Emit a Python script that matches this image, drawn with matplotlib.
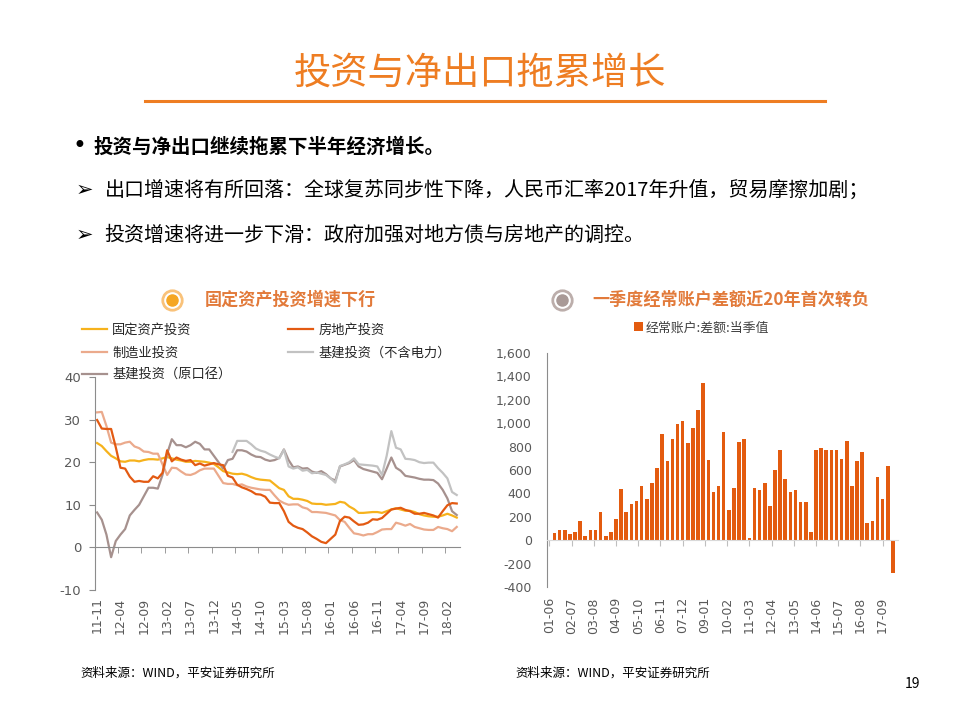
import numpy as np
import pandas as pd
import matplotlib
matplotlib.use('Agg')
import matplotlib.pyplot as plt
from matplotlib.lines import Line2D
from matplotlib.ticker import FuncFormatter, FixedLocator

plt.rcParams['font.family'] = ['Noto Sans CJK SC', 'DejaVu Sans']
plt.rcParams['axes.unicode_minus'] = False

# ---- left chart: monthly cumulative YoY (%), 2011-11 .. 2018-04
months = pd.date_range('2011-11-01', periods=78, freq='MS').strftime('%y-%m').tolist()

fai = [24.5, 23.8, 22.6, 21.5, 20.9, 20.2, 20.1, 20.4, 20.4, 20.2, 20.5, 20.7, 20.7, 20.6,
       20.9, 21.2, 20.9, 20.6, 20.4, 20.1, 20.1, 20.3, 20.2, 20.1, 19.9, 19.6, 18.8, 17.9,
       17.6, 17.3, 17.2, 17.3, 17.0, 16.5, 16.1, 15.9, 15.8, 15.7, 14.8, 13.9, 13.5, 12.0,
       11.4, 11.4, 11.2, 10.9, 10.3, 10.2, 10.2, 10.0, 10.1, 10.2, 10.7, 10.5, 9.6, 9.0,
       8.1, 8.1, 8.2, 8.3, 8.3, 8.1, 8.5, 8.9, 9.2, 8.9, 8.6, 8.6, 8.3, 7.8, 7.5, 7.3,
       7.2, 7.2, 7.5, 7.9, 7.5, 7.0]

realestate = [29.9, 27.9, 27.8, 27.8, 23.5, 18.7, 18.5, 16.6, 15.4, 15.6, 15.4, 15.4, 16.7, 16.2,
              17.5, 22.8, 20.2, 21.1, 20.6, 20.3, 20.5, 19.3, 19.7, 19.2, 19.5, 19.8, 19.5, 19.3,
              16.8, 16.4, 14.7, 14.1, 13.7, 13.2, 12.5, 12.4, 11.9, 10.5, 10.4, 10.4, 8.5, 6.0,
              5.1, 4.6, 4.3, 3.5, 2.6, 2.0, 1.3, 1.0, 2.0, 3.0, 6.2, 7.2, 7.0, 6.1,
              5.3, 5.4, 5.8, 6.6, 6.5, 6.9, 7.9, 8.9, 9.1, 9.3, 8.8, 8.5, 7.9, 7.9, 8.1, 7.8,
              7.5, 7.0, 8.5, 9.9, 10.4, 10.3]

manufacturing = [31.7, 31.8, 28.5, 24.6, 24.2, 24.2, 24.6, 24.8, 23.7, 23.3, 22.5, 22.4, 22.0, 22.0,
                 19.5, 17.0, 18.7, 18.6, 17.8, 17.1, 17.0, 17.4, 18.1, 18.5, 18.5, 18.5, 16.8, 15.1,
                 14.9, 14.9, 14.6, 14.8, 14.3, 14.0, 13.8, 13.6, 13.5, 13.5, 12.2, 11.0, 10.4, 10.0,
                 10.1, 10.1, 9.4, 9.1, 8.3, 8.3, 8.2, 8.1, 7.8, 7.5, 6.4, 6.0, 4.6, 3.3,
                 3.1, 2.8, 3.1, 3.1, 3.6, 4.2, 4.3, 4.3, 5.8, 5.5, 5.1, 5.5, 4.8, 4.5, 4.2, 4.1,
                 4.1, 4.8, 4.5, 4.3, 3.8, 4.8]

infra_ex_power = [np.nan] * 29 + [
    22.4, 25.0, 25.0, 25.0, 24.2, 23.2, 22.7, 22.4, 21.8, 21.3, 20.9, 22.9, 19.0,
    18.5, 18.8, 18.0, 18.2, 17.4, 17.6, 17.3, 17.0, 16.2, 15.2, 19.1, 19.5, 20.0, 20.9,
    19.5, 19.4, 19.3, 19.2, 19.0, 17.0, 21.5, 27.3, 23.4, 23.0, 20.8, 20.7, 20.5, 20.0, 19.8,
    19.9, 19.9, 18.6, 17.5, 16.2, 13.0, 12.3]

infra_old = [8.2, 6.5, 3.0, -2.3, 1.5, 3.0, 4.3, 7.5, 8.8, 10.0, 12.0, 14.0, 14.0, 13.8,
             17.0, 22.0, 25.4, 24.0, 24.0, 23.5, 24.0, 24.8, 24.3, 23.0, 23.0, 21.5, 20.0, 18.5,
             20.5, 20.8, 22.8, 22.8, 22.5, 21.8, 21.3, 21.2, 20.6, 20.3, 20.5, 21.0, 23.0, 20.5,
             18.8, 19.0, 18.5, 18.6, 17.8, 17.5, 17.9, 17.2, 16.2, 15.7, 19.0, 19.4, 19.8, 20.5,
             19.0, 18.4, 18.1, 17.8, 17.5, 16.0, 18.5, 21.1, 18.7, 18.0, 16.8, 16.6, 16.4, 16.1,
             15.9, 15.9, 15.8, 15.0, 13.5, 11.5, 8.5, 7.6]

# ---- right chart: current account balance per quarter (100m USD), 2001Q2 .. 2018Q1
quarters = pd.date_range('2001-06-30', periods=68, freq='QE')
current_account = [-10, 60, 83, 91, 57, 74, 162, 34, 91, 91, 245, 40, 66, 177, 436, 245,
                   308, 339, 467, 350, 485, 613, 906, 678, 869, 992, 1023, 829, 963, 1109,
                   1340, 684, 408, 459, 923, 254, 442, 838, 869, 23, 442, 433, 493, 296,
                   599, 767, 527, 416, 433, 328, 328, 66, 767, 792, 775, 767, 775, 690,
                   846, 467, 675, 758, 151, 168, 536, 350, 630, -282]
ca_ticklabels = ['01-06', '02-07', '03-08', '04-09', '05-10', '06-11', '07-12', '09-01',
                 '10-02', '11-03', '12-04', '13-05', '14-06', '15-07', '16-08', '17-09']

ORANGE = '#EE7D22'
TICK_C = '#595959'
SPINE_C = '#8C8C8C'

fig = plt.figure(figsize=(9.6, 7.2), dpi=100)

# ---- page header
fig.text(0.5, 0.899, '投资与净出口拖累增长', ha='center', va='center',
         fontsize=26.8, color=ORANGE, fontweight='medium')
fig.add_artist(Line2D([145 / 960, 825 / 960], [0.8597, 0.8597], color=ORANGE, lw=2.2,
                      transform=fig.transFigure))
fig.text(0.075, 0.797, '•', ha='left', va='center', fontsize=17, color='black',
         family=['DejaVu Sans'])
fig.text(0.097, 0.796, '投资与净出口继续拖累下半年经济增长。', ha='left', va='center',
         fontsize=14, fontweight='bold', color='black')
fig.text(0.079, 0.736, '➢', ha='left', va='center', fontsize=15, color='black',
         family=['DejaVu Sans'])
fig.text(0.109, 0.736, '出口增速将有所回落：全球复苏同步性下降，人民币汇率2017年升值，贸易摩擦加剧；',
         ha='left', va='center', fontsize=14.4, color='black')
fig.text(0.079, 0.673, '➢', ha='left', va='center', fontsize=15, color='black',
         family=['DejaVu Sans'])
fig.text(0.109, 0.673, '投资增速将进一步下滑：政府加强对地方债与房地产的调控。',
         ha='left', va='center', fontsize=14.4, color='black')

# ---- panel headers with round icons
def icon(x, y, ring, dot):
    fig.add_artist(Line2D([x], [y], marker='o', markersize=14, markerfacecolor='white',
                          markeredgecolor=ring, markeredgewidth=2, transform=fig.transFigure))
    fig.add_artist(Line2D([x], [y], marker='o', markersize=8, markerfacecolor=dot,
                          markeredgecolor=dot, transform=fig.transFigure))

icon(172 / 960, 1 - 300 / 720, '#F9C27A', '#F5A623')
icon(562 / 960, 1 - 300 / 720, '#BCAEAB', '#A99A97')
fig.text(205 / 960, 1 - 300 / 720, '固定资产投资增速下行', ha='left', va='center',
         fontsize=12.3, fontweight='bold', color='#E27A3A')
fig.text(592 / 960, 1 - 300 / 720, '一季度经常账户差额近20年首次转负', ha='left', va='center',
         fontsize=12.3, fontweight='bold', color='#E27A3A')

# ---- left chart
ax = fig.add_axes([95 / 960, 1 - 590 / 720, 365 / 960, 213 / 720])
x = np.arange(len(months))
ax.plot(x, fai, color='#F6B21C', lw=1.6, label='固定资产投资')
ax.plot(x, manufacturing, color='#EBAA8C', lw=1.6, label='制造业投资')
ax.plot(x, infra_old, color='#A6918E', lw=1.6, label='基建投资（原口径）')
ax.plot(x, infra_ex_power, color='#C2C2C2', lw=1.6, label='基建投资（不含电力）')
ax.plot(x, realestate, color='#E35A12', lw=1.6, label='房地产投资')
ax.set_xlim(-0.45, 77.7)
ax.set_ylim(-10, 40)
ax.set_yticks([-10, 0, 10, 20, 30, 40])
for s in ['top', 'right']:
    ax.spines[s].set_visible(False)
ax.spines['bottom'].set_position(('data', 0))
for s in ['left', 'bottom']:
    ax.spines[s].set_color(SPINE_C)
ax.set_xticks(x[::5])
ax.set_xticklabels(months[::5], rotation=90, fontsize=9, color=TICK_C, family='DejaVu Sans')
ax.xaxis.set_minor_locator(FixedLocator(x[::5] - 0.5))
ax.tick_params(axis='x', which='major', length=0, pad=36)
ax.tick_params(axis='x', which='minor', length=4, color=SPINE_C)
ax.tick_params(axis='y', length=4, color=SPINE_C, pad=6)
for t in ax.get_yticklabels():
    t.set_fontsize(9.5)
    t.set_color(TICK_C)
    t.set_family('DejaVu Sans')

handles, labels = ax.get_legend_handles_labels()
order = [0, 1, 2, 4, 3]
ax.legend([handles[i] for i in order], [labels[i] for i in order], ncol=2,
          loc='upper left', bbox_to_anchor=(82 / 960, 1 - 324 / 720),
          bbox_transform=fig.transFigure, frameon=False, fontsize=9.5,
          handlelength=1.9, handletextpad=0.4, columnspacing=4.3, labelspacing=0.72,
          borderpad=0, borderaxespad=0, labelcolor='#262626')

# ---- right chart
ax2 = fig.add_axes([547 / 960, 1 - 587 / 720, 351 / 960, 234 / 720])
qpos = [(d.year - 2001) * 12 + d.month - 6 for d in quarters]
ax2.bar(qpos, current_account, width=2.1, color='#E35B0F', label='经常账户:差额:当季值')
ax2.set_xlim(-1.4, 204)
ax2.set_ylim(-400, 1600)
ax2.set_yticks(np.arange(-400, 1601, 200))
ax2.yaxis.set_major_formatter(FuncFormatter(lambda v, p: f'{int(v):,}'))
for s in ['top', 'right']:
    ax2.spines[s].set_visible(False)
ax2.spines['bottom'].set_position(('data', 0))
ax2.spines['left'].set_color(SPINE_C)
ax2.spines['bottom'].set_color('#D9D9D9')
ax2.set_xticks(np.arange(len(ca_ticklabels)) * 13)
ax2.set_xticklabels(ca_ticklabels, rotation=90, fontsize=9, color=TICK_C, family='DejaVu Sans')
ax2.tick_params(axis='x', length=4, color='#BFBFBF', pad=37)
ax2.tick_params(axis='y', length=0, pad=11)
for t in ax2.get_yticklabels():
    t.set_fontsize(9)
    t.set_color(TICK_C)
    t.set_family('DejaVu Sans')
ax2.legend(loc='center', bbox_to_anchor=(701 / 960, 1 - 328 / 720),
           bbox_transform=fig.transFigure, frameon=False, fontsize=9.3,
           handlelength=0.7, handleheight=0.7, handletextpad=0.2,
           borderpad=0, labelcolor='#404040')

# ---- footers
fig.text(80 / 960, 1 - 673 / 720, '资料来源：WIND，平安证券研究所', ha='left', va='center',
         fontsize=9, color='black')
fig.text(515 / 960, 1 - 673 / 720, '资料来源：WIND，平安证券研究所', ha='left', va='center',
         fontsize=9, color='black')
fig.text(912 / 960, 1 - 684 / 720, '19', ha='center', va='center', fontsize=10, color='black')

fig.savefig('out.png', dpi=100)
